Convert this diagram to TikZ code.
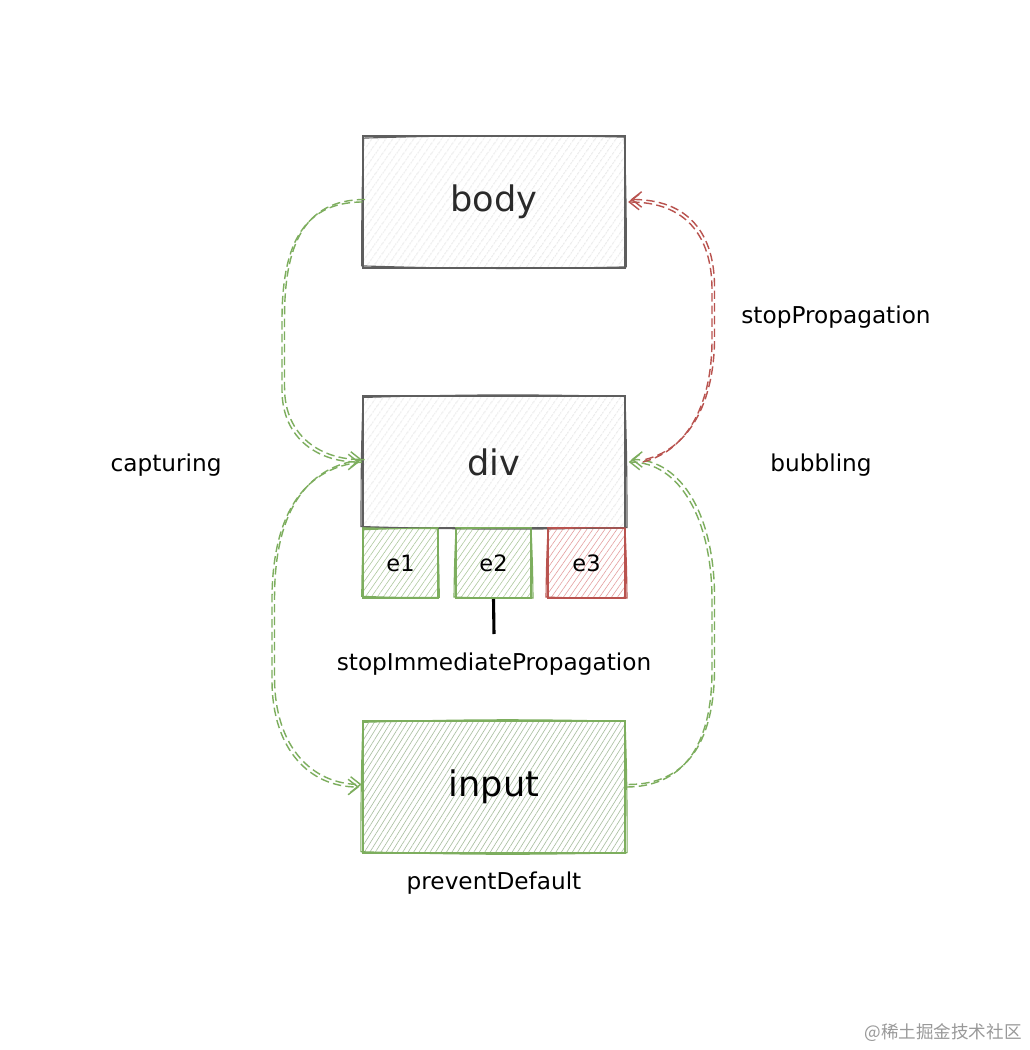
\documentclass[tikz,border=0pt]{standalone}
\usepackage{fontspec}
\setmainfont{DejaVu Sans}
\newfontfamily\cjkfont{Noto Sans CJK SC}
\usetikzlibrary{patterns.meta,arrows.meta}
\definecolor{boxgray}{HTML}{5E5E5E}
\definecolor{sgreen}{HTML}{7DAE5E}
\definecolor{sred}{HTML}{B9534F}
\definecolor{hgray}{HTML}{CACACA}
\definecolor{hgreen}{HTML}{ABC79B}
\definecolor{hgreenin}{HTML}{A9BFA0}
\definecolor{hred}{HTML}{E39C9C}
\definecolor{txt}{HTML}{2A2A2A}
\newcommand\sketchpass[2]{%
  \draw[#2, line width=0.8pt]
    ([shift={(1,2)}]#1.north west) to[bend left=1.5] ([shift={(-1,1)}]#1.north east)
    to[bend left=1] ([shift={(1,-1)}]#1.south east)
    to[bend left=1.5] ([shift={(-1,-2)}]#1.south west)
    to[bend left=1] ([shift={(1,2)}]#1.north west);}
\newcommand\dconn[2]{%
  \draw[conn,#1] #2;
  \draw[conn,#1,transform canvas={shift={(1.8pt,1.8pt)}}] #2;}
\begin{document}
\begin{tikzpicture}[x=0.025cm,y=-0.025cm,
  bigbox/.style={draw=boxgray, line width=1.3pt, minimum width=6.55cm, minimum height=3.28cm,
    font=\fontsize{25}{30}\selectfont, text=txt,
    pattern={Lines[angle=55,distance=4pt,line width=0.4pt]}, pattern color=hgray},
  smallbox/.style={line width=1.4pt, minimum height=1.75cm, font=\fontsize{16}{19}\selectfont,
    pattern={Lines[angle=55,distance=3.5pt,line width=0.4pt]}},
  lbl/.style={font=\fontsize{16.5}{20}\selectfont, text=black},
  conn/.style={dash pattern=on 6pt off 3pt, line width=1pt,
    -{Straight Barb[length=7pt,width=11pt,line width=1pt]}, shorten >=2pt}
]
\useasboundingbox (0,0) rectangle (1030,1050);
\fill[white] (0,0) rectangle (1030,1050);

% boxes
\node[bigbox] (body) at (494,202) {\raisebox{-3pt}{body}};
\node[bigbox] (div) at (494,462) {\raisebox{-2pt}{div}};
\node[smallbox, minimum width=1.875cm, draw=sgreen, pattern color=hgreen] (e1) at (400.5,563) {e1};
\node[smallbox, minimum width=1.875cm, draw=sgreen, pattern color=hgreen] (e2) at (493.5,563) {e2};
\node[smallbox, minimum width=1.925cm, draw=sred, pattern color=hred] (e3) at (586.5,563) {e3};
\node[bigbox, draw=sgreen, pattern={Lines[angle=58,distance=3.3pt,line width=0.45pt]}, pattern color=hgreenin, line width=1.5pt, text=black] (input) at (494,787) {\raisebox{-2pt}{input}};

\sketchpass{body}{boxgray}
\sketchpass{div}{boxgray}
\sketchpass{e1}{sgreen}
\sketchpass{e2}{sgreen}
\sketchpass{e3}{sred}
\sketchpass{input}{sgreen}

% labels
\node[lbl] (cap) at (166,465) {capturing};
\node[lbl] (bub) at (821,465) {bubbling};
\node[lbl] (stopP) at (836,317) {stopPropagation};
\node[lbl] (stopI) at (494,664) {stopImmediatePropagation};
\node[lbl] (prev) at (494,883) {preventDefault};

% e2 marker line
\coordinate (e2tail) at (494,634);
\draw[line width=2.2pt, black] (e2.south) -- (e2tail);

% connectors
\dconn{sgreen}{(body.west) .. controls (300,202) and (282,250) .. (282,320) -- (282,390) .. controls (282,440) and (320,462) .. (div.west)}
\dconn{sgreen}{(div.west) .. controls (300,468) and (272,520) .. (272,600) -- (272,680) .. controls (272,750) and (310,787) .. (input.west)}
\dconn{sgreen}{(input.east) .. controls (680,787) and (712,750) .. (712,670) -- (712,600) .. controls (712,520) and (680,462) .. (div.east)}
\dconn{sred}{([xshift=12]div.east) .. controls (690,450) and (712,400) .. (712,340) -- (712,290) .. controls (712,235) and (685,202) .. (body.east)}

% watermark
\node[font=\cjkfont\fontsize{12.5}{15}\selectfont, text=black!40] (wm) at (943,1033) {@稀土掘金技术社区};
\end{tikzpicture}
\end{document}
